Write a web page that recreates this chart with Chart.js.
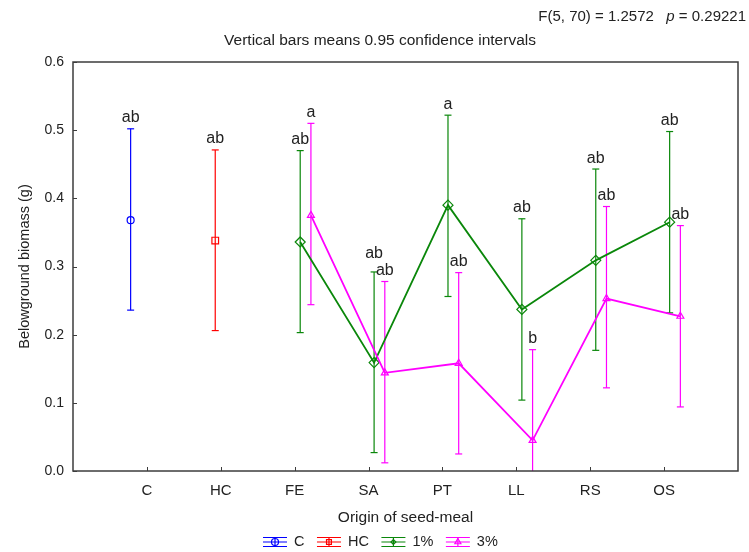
<!DOCTYPE html>
<html>
<head>
<meta charset="utf-8">
<script src="https://cdn.jsdelivr.net/npm/chart.js@4.4.1/dist/chart.umd.min.js"></script>
<style>
  html, body { margin: 0; padding: 0; background: #fff; }
  #wrap { width: 749px; height: 552px; }
</style>
</head>
<body>
<div id="wrap"><canvas id="grafica" width="749" height="552"></canvas></div>
<script>
// Categorias del eje x
const categorias = ['C', 'HC', 'FE', 'SA', 'PT', 'LL', 'RS', 'OS'];

// Control (C): un solo punto
const cCat = ['C'];
const cMedia = [0.368];
const cInf = [0.236];
const cSup = [0.502];
const cLetras = ['ab'];

// Control con harina (HC)
const hcCat = ['HC'];
const hcMedia = [0.338];
const hcInf = [0.206];
const hcSup = [0.471];
const hcLetras = ['ab'];

// Dosis 1% y 3%, de FE a OS
const dosisCat = ['FE', 'SA', 'PT', 'LL', 'RS', 'OS'];
const unoMedia = [0.336, 0.159, 0.390, 0.237, 0.309, 0.365];
const unoInf = [0.203, 0.027, 0.256, 0.104, 0.177, 0.232];
const unoSup = [0.470, 0.292, 0.522, 0.370, 0.443, 0.498];
const unoLetras = ['ab', 'ab', 'a', 'ab', 'ab', 'ab'];

const tresMedia = [0.375, 0.144, 0.158, 0.045, 0.253, 0.227];
const tresInf = [0.244, 0.012, 0.025, -0.088, 0.122, 0.094];
const tresSup = [0.510, 0.278, 0.291, 0.178, 0.388, 0.360];
const tresLetras = ['a', 'ab', 'ab', 'b', 'ab', 'ab'];

// Ticks del eje y
const yTicks = [0.0, 0.1, 0.2, 0.3, 0.4, 0.5, 0.6];

const fuente = "'Liberation Sans', Arial, sans-serif";
const texto = '#222';
const marcoColor = '#3c3c3c';

// Series (estilo y desplazamiento dentro de la categoria)
const series = [
    { nombre: 'C', cats: cCat, media: cMedia, inf: cInf, sup: cSup, letras: cLetras,
      color: '#0000ff', punto: 'circle', radio: 3.5, desp: -0.22 },
    { nombre: 'HC', cats: hcCat, media: hcMedia, inf: hcInf, sup: hcSup, letras: hcLetras,
      color: '#ff0000', punto: 'rect', radio: 4.7, desp: -0.075 },
    { nombre: '1%', cats: dosisCat, media: unoMedia, inf: unoInf, sup: unoSup, letras: unoLetras,
      color: '#0a870a', punto: 'rectRot', radio: 5, desp: 0.075 },
    { nombre: '3%', cats: dosisCat, media: tresMedia, inf: tresInf, sup: tresSup, letras: tresLetras,
      color: '#ff00ff', punto: 'triangle', radio: 4, desp: 0.22 }
];

const posX = (s, i) => categorias.indexOf(s.cats[i]) + 1 + s.desp;

// Datasets: bigotes (intervalos) + medias
const datasets = [];
series.forEach((s, k) => {
    const bigotes = [];
    s.media.forEach((m, i) => {
        const x = posX(s, i);
        bigotes.push({ x: x, y: s.inf[i] }, { x: x, y: s.sup[i] }, { x: x, y: null });
    });
    datasets.push({
        label: s.nombre + ' ic',
        data: bigotes,
        showLine: true,
        spanGaps: false,
        borderColor: s.color,
        borderWidth: 1.2,
        pointStyle: 'line',
        pointRadius: 3.5,
        pointBorderColor: s.color,
        pointBorderWidth: 1.2,
        order: 20 - k
    });
    datasets.push({
        label: s.nombre,
        data: s.media.map((m, i) => ({ x: posX(s, i), y: m })),
        showLine: true,
        borderColor: s.color,
        borderWidth: 1.8,
        pointStyle: s.punto,
        pointRadius: s.radio,
        pointBackgroundColor: 'rgba(0,0,0,0)',
        pointBorderColor: s.color,
        pointBorderWidth: 1.2,
        order: 10 - k
    });
});

// marcador de la leyenda
function marcador(ctx, estilo, x, y, r) {
    ctx.beginPath();
    if (estilo === 'circle') {
        ctx.arc(x, y, r, 0, Math.PI * 2);
    } else if (estilo === 'rect') {
        ctx.rect(x - r * 0.7, y - r * 0.7, r * 1.4, r * 1.4);
    } else if (estilo === 'rectRot') {
        const d = r * 0.7;
        ctx.moveTo(x - d, y); ctx.lineTo(x, y + d); ctx.lineTo(x + d, y); ctx.lineTo(x, y - d); ctx.closePath();
    } else {
        ctx.moveTo(x, y - r); ctx.lineTo(x + r * 0.87, y + r / 2); ctx.lineTo(x - r * 0.87, y + r / 2); ctx.closePath();
    }
    ctx.stroke();
}

// Marco, ticks interiores, letras, textos de arriba y leyenda
const extras = {
    id: 'extras',
    afterDatasetsDraw(chart) {
        const ctx = chart.ctx;
        const a = chart.chartArea;
        const sx = chart.scales.x;
        const sy = chart.scales.y;
        ctx.save();

        // marco
        ctx.strokeStyle = marcoColor;
        ctx.lineWidth = 1.5;
        ctx.strokeRect(a.left, a.top, a.right - a.left, a.bottom - a.top);
        ctx.lineWidth = 1;
        ctx.beginPath();
        yTicks.forEach(v => {
            const y = Math.round(sy.getPixelForValue(v)) + 0.5;
            ctx.moveTo(a.left, y);
            ctx.lineTo(a.left + 4, y);
        });
        categorias.forEach((c, i) => {
            const x = Math.round(sx.getPixelForValue(i + 1)) + 0.5;
            ctx.moveTo(x, a.bottom);
            ctx.lineTo(x, a.bottom - 4);
        });
        ctx.stroke();

        // letras sobre los intervalos
        ctx.font = '16px ' + fuente;
        ctx.fillStyle = texto;
        ctx.textAlign = 'center';
        ctx.textBaseline = 'alphabetic';
        const etiquetas = [];
        series.forEach(s => {
            s.letras.forEach((l, i) => {
                etiquetas.push({ l: l, x: sx.getPixelForValue(posX(s, i)), y: sy.getPixelForValue(s.sup[i]) - 6.5 });
            });
        });
        // si dos letras chocan, subimos la de arriba
        etiquetas.forEach(e => {
            etiquetas.forEach(o => {
                if (o !== e && o.x > e.x && o.x - e.x < 18 && Math.abs(o.y - e.y) < 14 && e.y <= o.y) {
                    e.y = o.y - 16.5;
                }
            });
        });
        etiquetas.forEach(e => ctx.fillText(e.l, e.x, e.y));

        // textos de arriba
        ctx.font = '15.5px ' + fuente;
        ctx.textBaseline = 'middle';
        ctx.textAlign = 'center';
        ctx.fillText('Vertical bars means 0.95 confidence intervals', 380, 41);
        ctx.textAlign = 'right';
        let xd = 746;
        ctx.font = '15px ' + fuente;
        ctx.fillText(' = 0.29221', xd, 17);
        xd -= ctx.measureText(' = 0.29221').width;
        ctx.font = 'italic 15px ' + fuente;
        ctx.fillText('p', xd, 17);
        xd -= ctx.measureText('p').width;
        ctx.font = '15px ' + fuente;
        ctx.fillText('F(5, 70) = 1.2572   ', xd, 17);

        // leyenda
        let lx = 263;
        const ly = 542;
        ctx.textAlign = 'left';
        ctx.font = '14.5px ' + fuente;
        series.forEach(s => {
            ctx.strokeStyle = s.color;
            ctx.lineWidth = 1.2;
            ctx.beginPath();
            [-4.5, 0, 4.5].forEach(d => {
                ctx.moveTo(lx, ly + d);
                ctx.lineTo(lx + 24, ly + d);
            });
            ctx.moveTo(lx + 12, ly - 4.5);
            ctx.lineTo(lx + 12, ly + 4.5);
            ctx.stroke();
            marcador(ctx, s.punto, lx + 12, ly, 3.5);
            ctx.fillStyle = texto;
            ctx.fillText(s.nombre, lx + 31, ly);
            lx += 31 + ctx.measureText(s.nombre).width + 12.5;
        });

        ctx.restore();
    }
};

new Chart(document.getElementById('grafica'), {
    type: 'scatter',
    data: { datasets: datasets },
    plugins: [extras],
    options: {
        responsive: false,
        animation: false,
        layout: { padding: { top: 62, right: 10, left: 0, bottom: 0 } },
        plugins: {
            legend: { display: false },
            tooltip: { enabled: false }
        },
        scales: {
            x: {
                type: 'linear',
                min: 0,
                max: 9,
                afterFit: s => { s.height = 81; },
                grid: { display: false, drawTicks: false },
                border: { display: false },
                ticks: {
                    stepSize: 1,
                    autoSkip: false,
                    maxRotation: 0,
                    padding: 11,
                    color: texto,
                    font: { family: fuente, size: 15 },
                    callback: v => categorias[v - 1] || ''
                },
                title: {
                    display: true,
                    text: 'Origin of seed-meal',
                    color: texto,
                    font: { family: fuente, size: 15.5 },
                    padding: { top: 4, bottom: 25 }
                }
            },
            y: {
                min: 0,
                max: 0.6,
                afterFit: s => { s.width = 73; },
                afterBuildTicks: s => { s.ticks = yTicks.map(v => ({ value: v })); },
                grid: { display: false, drawTicks: false },
                border: { display: false },
                ticks: {
                    padding: 9,
                    color: texto,
                    font: { family: fuente, size: 14 },
                    callback: v => v.toFixed(1)
                },
                title: {
                    display: true,
                    text: 'Belowground biomass (g)',
                    color: texto,
                    font: { family: fuente, size: 14.5 },
                    padding: { top: 16, bottom: 0 }
                }
            }
        }
    }
});
</script>
</body>
</html>
